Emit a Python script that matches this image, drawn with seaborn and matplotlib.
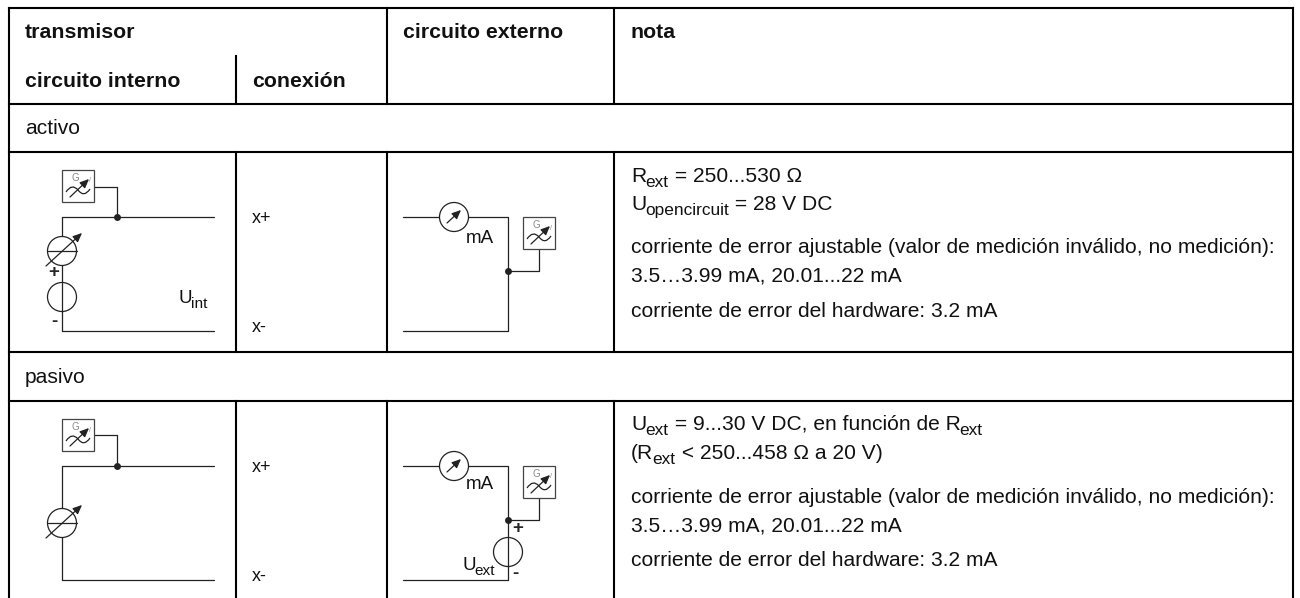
import re
import matplotlib
matplotlib.use('Agg')
import pandas as pd
import seaborn as sns
import matplotlib.pyplot as plt
from matplotlib.patches import Circle, PathPatch, Rectangle
from matplotlib.path import Path

sns.set_theme(style='white')
plt.rcParams['font.family'] = ['Liberation Sans', 'DejaVu Sans']

# texts of the table
header_top = ['transmisor', 'circuito externo', 'nota']
header_sub = ['circuito interno', 'conexión']
section_names = ['activo', 'pasivo']
pins = ['x+', 'x-']
notes_active = ['R_{ext} = 250...530 Ω', 'U_{opencircuit} = 28 V DC',
                'corriente de error ajustable (valor de medición inválido, no medición):',
                '3.5…3.99 mA, 20.01...22 mA',
                'corriente de error del hardware: 3.2 mA']
notes_passive = ['U_{ext} = 9...30 V DC, en función de R_{ext}',
                 '(R_{ext} < 250...458 Ω a 20 V)',
                 'corriente de error ajustable (valor de medición inválido, no medición):',
                 '3.5…3.99 mA, 20.01...22 mA',
                 'corriente de error del hardware: 3.2 mA']

# table grid, in pixels
rules_h = [(9, 1293, 8), (9, 1293, 104), (9, 1293, 152), (9, 1293, 352), (9, 1293, 401)]
rules_v = [(9, 8, 600), (236, 56, 104), (236, 152, 352), (236, 401, 600), (387, 8, 104), (387, 152, 352),
           (387, 401, 600), (614, 8, 104), (614, 152, 352), (614, 401, 600), (1293, 8, 600)]

fig = plt.figure(figsize=(13, 5.98), dpi=100)
ax = fig.add_axes([0, 0, 1, 1])

# wires as separate runs, drawn by seaborn
runs = [
    [(94, 187), (117, 187), (117, 217)],
    [(214, 217), (62, 217), (62, 331), (214, 331)],
    [(94, 435), (117, 435), (117, 466)],
    [(214, 466), (62, 466), (62, 580), (214, 580)],
    [(403, 217), (508, 217), (508, 331), (403, 331)],
    [(508, 271), (539, 271), (539, 249)],
    [(403, 466), (508, 466), (508, 580), (403, 580)],
    [(508, 520), (539, 520), (539, 498)],
]
rows = []
for i, run in enumerate(runs):
    for j, (x, y) in enumerate(run):
        rows.append({'run': i, 'order': j, 'x': x, 'y': y})
wires = pd.DataFrame(rows)
sns.lineplot(data=wires, x='x', y='y', units='run', estimator=None, sort=False,
             color='#222222', lw=0.9, ax=ax, legend=False)
ax.set_xlim(0, 1300)
ax.set_ylim(598, 0)
ax.axis('off')

for x0, x1, y in rules_h:
    ax.plot([x0, x1], [y, y], color='black', lw=1.5, solid_capstyle='projecting')
for x, y0, y1 in rules_v:
    ax.plot([x, x], [y0, y1], color='black', lw=1.5, solid_capstyle='projecting')


def arrow(x0, y0, x1, y1):
    ax.annotate('', xy=(x1, y1), xytext=(x0, y0),
                arrowprops=dict(arrowstyle='-|>,head_length=0.45,head_width=0.2', color='#222222', lw=0.9,
                                shrinkA=0, shrinkB=0), zorder=5)


def ring(x, y):
    ax.add_patch(Circle((x, y), 14.5, fc='white', ec='#222222', lw=0.9, zorder=3))


def meter(x, y):
    # current source with slanted arrow
    ring(x, y)
    ax.plot([x - 14.5, x + 14.5], [y, y], color='#222222', lw=0.9, zorder=4)
    arrow(x - 16, y + 15, x + 20, y - 18)


def ammeter(x, y):
    ring(x, y)
    arrow(x - 7, y + 6, x + 7, y - 7)


def voltage(x, y):
    ring(x, y)
    ax.plot([x, x], [y - 14.5, y + 14.5], color='#222222', lw=0.9, zorder=4)


def node(x, y):
    ax.plot([x], [y], 'o', color='#222222', ms=5, mew=0, zorder=5)


def signal_box(x, y):
    # square with G, wave and slanted arrow
    ax.add_patch(Rectangle((x, y), 32, 32, fc='white', ec='#444444', lw=0.9, zorder=3))
    ax.text(x + 13, y + 8, 'G', fontsize=7, color='#888888', ha='center', va='center', zorder=4)
    wave = Path([(x + 4, y + 22), (x + 10, y + 13), (x + 16, y + 20), (x + 22, y + 28), (x + 28, y + 19)],
                [Path.MOVETO, Path.CURVE3, Path.CURVE3, Path.CURVE3, Path.CURVE3])
    ax.add_patch(PathPatch(wave, fc='none', ec='#222222', lw=0.9, zorder=4))
    arrow(x + 8, y + 27, x + 27, y + 9)
    ax.text(x + 28, y + 11, '/', fontsize=5, color='#888888', ha='center', va='center', zorder=4)


def rich(x, y, txt, size):
    # text with subscripts set run by run, axes are 1:1 with pixels
    rend = fig.canvas.get_renderer()
    parts = re.split(r'_\{(.*?)\}', txt)
    for k, part in enumerate(parts):
        if not part:
            continue
        sub = k % 2 == 1
        t = ax.text(x, y + (5 if sub else 0), part, fontsize=size * 0.82 if sub else size,
                    va='baseline', color='#111111', zorder=6)
        x = t.get_window_extent(rend).x1 + (0.5 if sub else -1)


for x, y in [(62, 170), (62, 419), (523, 217), (523, 466)]:
    signal_box(x, y)
for x, y in [(117, 217), (508, 271), (117, 466), (508, 520)]:
    node(x, y)
meter(62, 251)
voltage(62, 297)
meter(62, 523)
ammeter(454, 217)
ammeter(454, 466)
voltage(508, 552)

fs = 15.15
small = 13.5
for txt, x in zip(header_top, [25, 403, 631]):
    ax.text(x, 38, txt, fontsize=15.3, fontweight='bold', va='baseline', color='#111111')
for txt, x in zip(header_sub, [25, 252]):
    ax.text(x, 87, txt, fontsize=15.3, fontweight='bold', va='baseline', color='#111111')
for txt, y in zip(section_names, [134, 383]):
    ax.text(25, y, txt, fontsize=fs, va='baseline', color='#111111')
for txt, y in zip(pins * 2, [223, 332, 472, 581]):
    ax.text(252, y, txt, fontsize=13, va='baseline', color='#111111')

ax.text(54, 273, '+', fontsize=small, fontweight='bold', ha='center', va='center')
ax.text(54, 322, '-', fontsize=small, fontweight='bold', ha='center', va='center')
rich(178, 303, 'U_{int}', small)
rich(466, 243, 'mA', small)
rich(466, 489, 'mA', small)
ax.text(518, 528, '+', fontsize=small, fontweight='bold', ha='center', va='center')
ax.text(515, 573, '-', fontsize=small, fontweight='bold', ha='center', va='center')
rich(462, 570, 'U_{ext}', small)

for txt, y in zip(notes_active, [182, 210, 253, 282, 317]):
    rich(631, y, txt, fs)
for txt, y in zip(notes_passive, [430, 459, 503, 531, 566]):
    rich(631, y, txt, fs)

fig.savefig('out.png', dpi=100, facecolor='white')
